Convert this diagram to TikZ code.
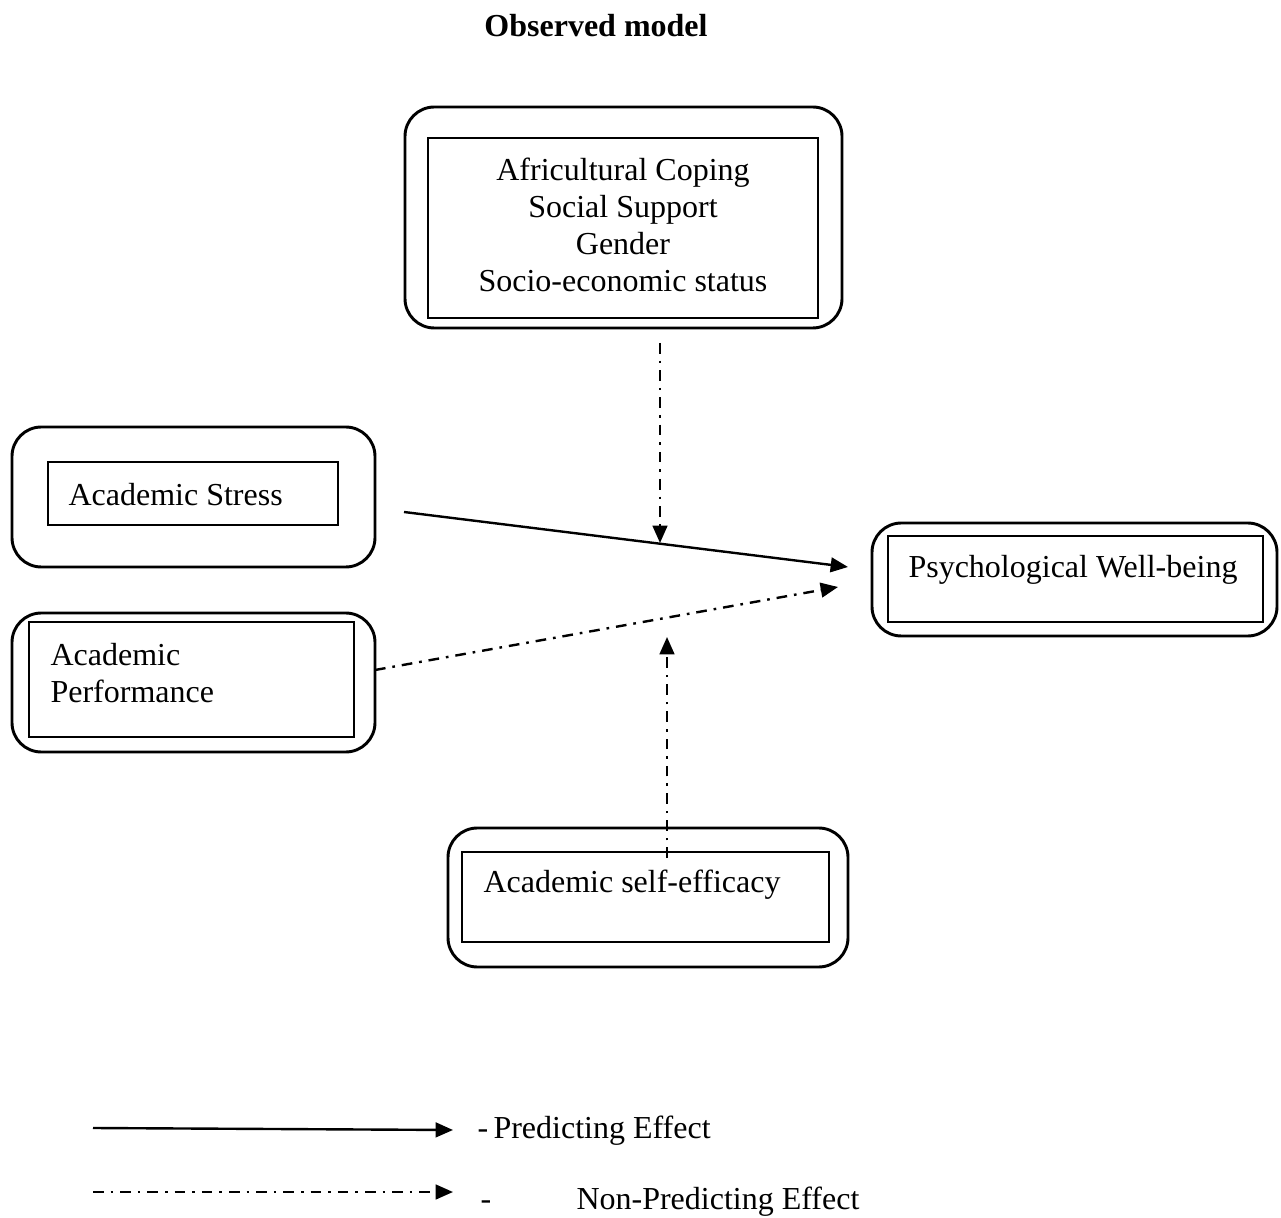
\documentclass[tikz,border=0pt]{standalone}
\usepackage{fontspec}
\setmainfont{Liberation Serif}
\usetikzlibrary{arrows.meta}
\usetikzlibrary{fit}

\begin{document}
\begin{tikzpicture}[x=0.375pt, y=-0.375pt,
    font=\fontsize{12}{13.8}\selectfont,
    outerbox/.style={draw, line width=1.1pt, rounded corners=11pt, inner sep=0pt},
    innerbox/.style={draw, line width=0.45pt, inner sep=0pt},
    lbl/.style={inner sep=0pt, anchor=west},
    predict/.style={line width=0.9pt, -{Triangle[length=6.5pt, width=5.5pt]}},
    nonpredict/.style={predict, dash pattern=on 4pt off 2.6pt on 1pt off 2.6pt}]
    \useasboundingbox (0, 0) rectangle (1281, 1218);

    \node[font=\fontsize{12}{13.8}\selectfont\bfseries] (title) at (596, 26) {Observed model};

    % moderators
    \node[outerbox, fit={(405, 107) (842, 328)}] (modout) {};
    \node[innerbox, fit={(428, 138) (818, 318)}] (modin) {};
    \node[align=center, inner sep=0pt] (modtext) at (623, 225)
        {Africultural Coping\\Social Support\\Gender\\Socio-economic status};

    % predictors
    \node[outerbox, fit={(12, 427) (375, 567)}] (stressout) {};
    \node[innerbox, fit={(48, 462) (338, 525)}] (stressin) {};
    \node[lbl] (stresstext) at (68, 495) {Academic Stress};

    \node[outerbox, fit={(12, 613) (375, 752)}] (perfout) {};
    \node[innerbox, fit={(29, 622) (354, 737)}] (perfin) {};
    \node[lbl, align=left] (perftext) at (50, 673) {Academic\\Performance};

    \node[outerbox, fit={(448, 828) (848, 967)}] (effout) {};
    \node[innerbox, fit={(462, 852) (829, 942)}] (effin) {};
    \node[lbl] (efftext) at (483, 885) {Academic self-efficacy};

    % outcome
    \node[outerbox, fit={(872, 523) (1277, 636)}] (wellout) {};
    \node[innerbox, fit={(888, 536) (1263, 622)}] (wellin) {};
    \node[lbl] (welltext) at (908, 570) {Psychological Well-being};

    % arrow ends
    \coordinate (stressend) at (404, 512);
    \coordinate (welltip) at (848, 567);
    \coordinate (perfend) at (375, 670);
    \coordinate (welltip2) at (838, 587);
    \coordinate (modend) at (660, 343);
    \coordinate (modtip) at (660, 543);
    \coordinate (effend) at (667, 858);
    \coordinate (efftip) at (667, 637);

    \draw[predict] (stressend) -- (welltip);
    \draw[nonpredict] (perfend) -- (welltip2);
    \draw[nonpredict] (modend) -- (modtip);
    \draw[nonpredict] (effend) -- (efftip);

    % legend
    \coordinate (keyaa) at (93, 1128);
    \coordinate (keyab) at (453, 1130);
    \coordinate (keyba) at (93, 1192);
    \coordinate (keybb) at (453, 1192);
    \draw[predict] (keyaa) -- (keyab);
    \draw[nonpredict] (keyba) -- (keybb);
    \node[lbl] (keyatext) at (477, 1131) {-\,Predicting Effect};
    \node[lbl] (keybtext) at (480, 1202) {-\hspace{32pt}Non-Predicting Effect};
\end{tikzpicture}
\end{document}
